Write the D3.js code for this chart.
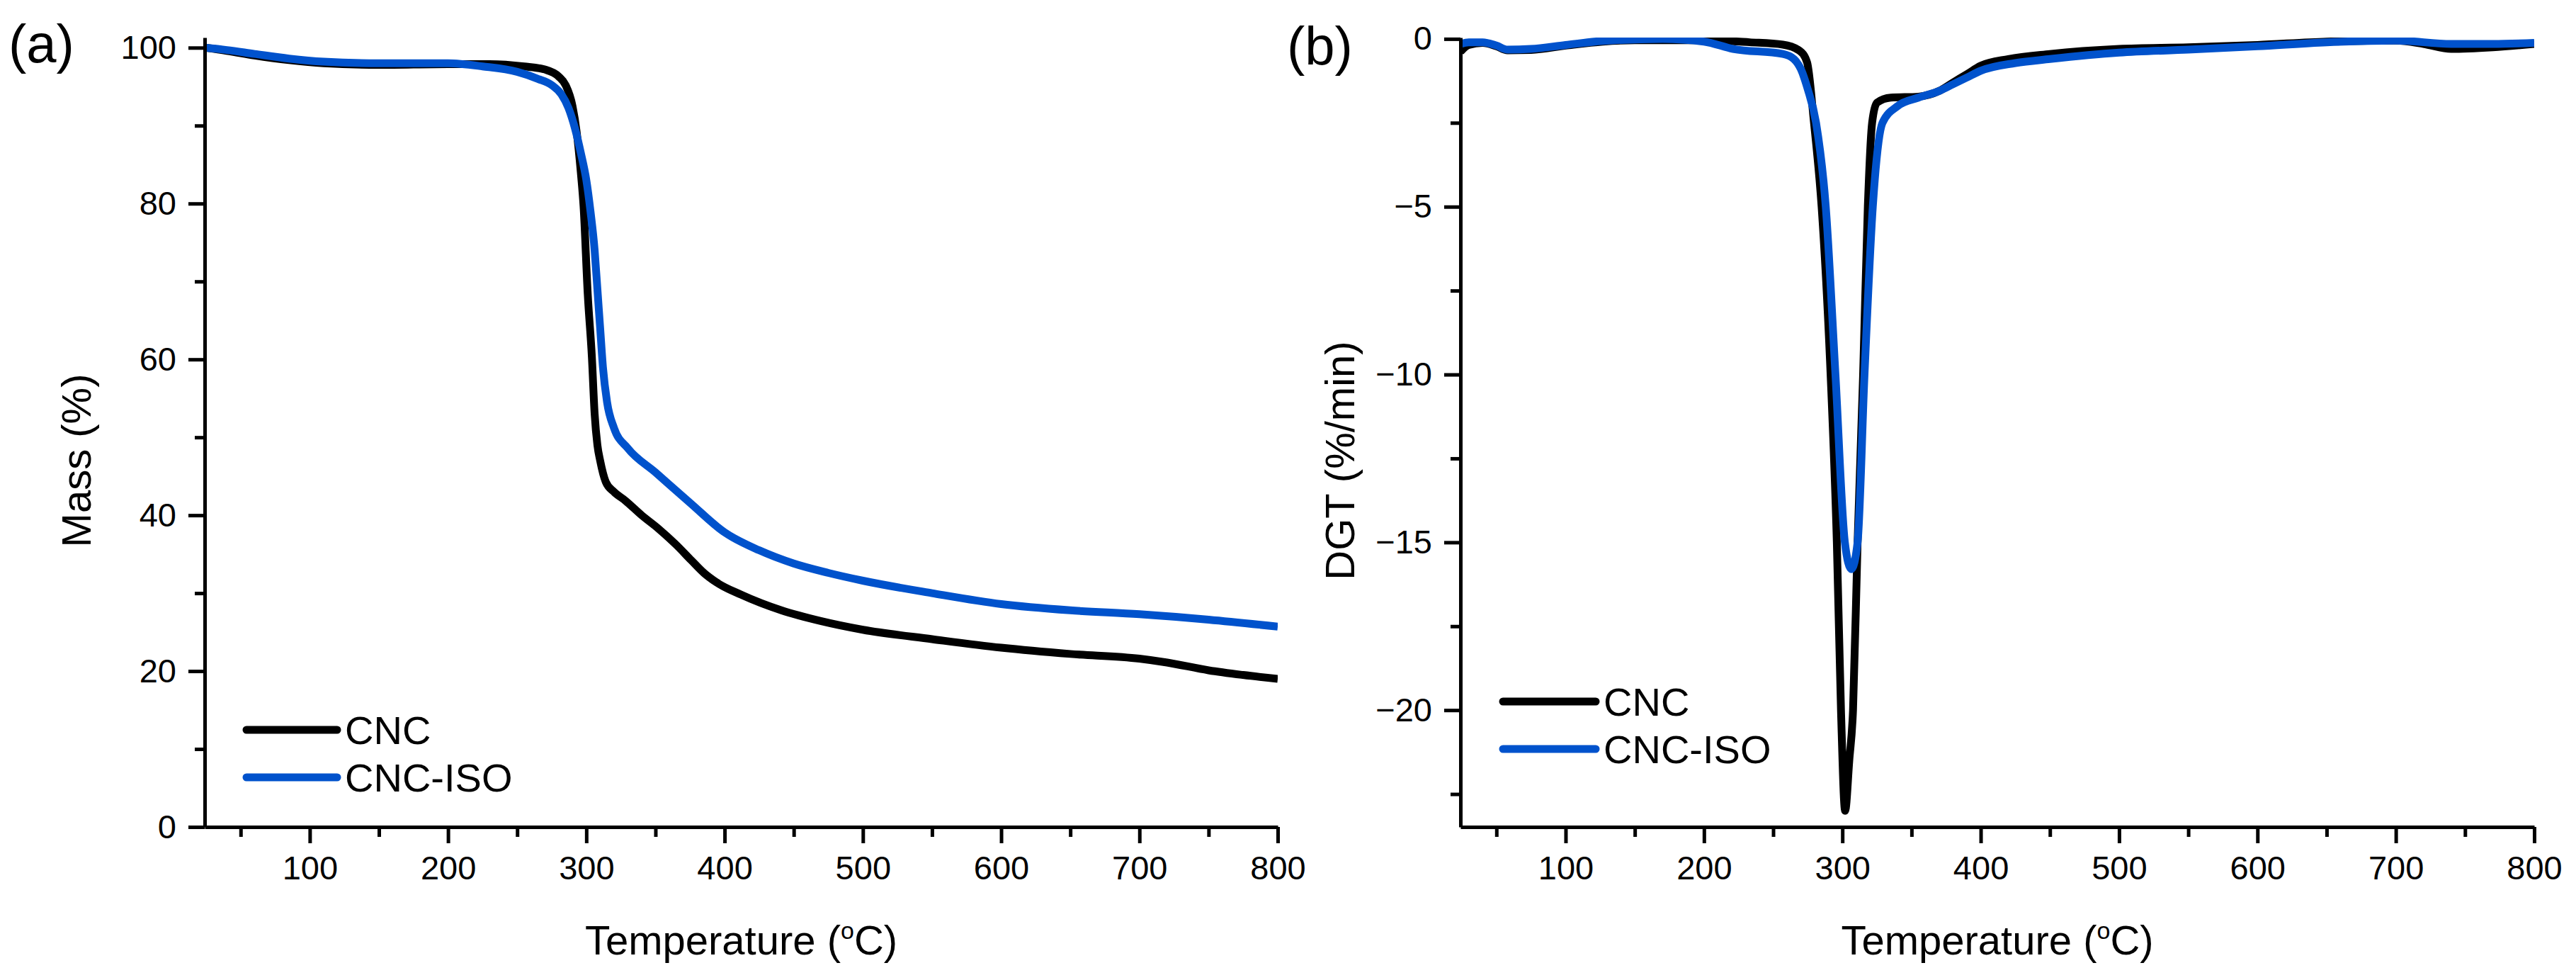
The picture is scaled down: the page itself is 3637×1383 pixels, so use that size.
<!DOCTYPE html>
<html>
<head>
<meta charset="utf-8">
<script src="https://cdn.jsdelivr.net/npm/d3@7"></script>
<style>
  body { margin: 0; background: #fff; }
  text { font-family: "Liberation Sans", Arial, sans-serif; fill: #000; }
</style>
</head>
<body>
<svg id="chart"></svg>
<script>
// series names and colours
const seriesNames = ['CNC', 'CNC-ISO'];
const seriesColors = ['#000000', '#0052cc'];

// (a) TGA: [temperature °C, mass %]
const cncMass = [
  [24, 100], [40, 99.6], [60, 99.0], [85, 98.4], [110, 98.0], [150, 97.8], [200, 97.9],
  [230, 97.9], [255, 97.6], [270, 97.2], [280, 96.3], [285, 95.2], [290, 92.5], [293, 89.2],
  [296, 84], [298, 79.6], [301, 68.4], [304, 60.3], [306, 53], [308, 49], [310, 47],
  [314, 44.3], [320, 43], [328, 41.9], [340, 40], [352, 38.3], [365, 36.2], [376, 34.2],
  [385, 32.6], [394, 31.4], [412, 29.8], [441, 27.8], [470, 26.4], [500, 25.3], [550, 24.1],
  [600, 23], [650, 22.2], [700, 21.6], [720, 21.1], [750, 20.1], [775, 19.5], [800, 19.0]
];
const isoMass = [
  [24, 100], [40, 99.7], [60, 99.2], [85, 98.6], [110, 98.2], [150, 98.0], [200, 98.0],
  [225, 97.6], [250, 96.9], [265, 96.0], [275, 95.2], [282, 94], [287, 92.3], [292, 89.5],
  [296, 86.5], [300, 83], [303, 79], [306, 74], [308, 69], [310, 64], [312, 59], [315, 54.5],
  [320, 51.2], [330, 48.6], [350, 45.5], [375, 41.6], [400, 37.8], [425, 35.5], [450, 33.8],
  [475, 32.6], [500, 31.6], [550, 30], [600, 28.6], [650, 27.8], [700, 27.3], [750, 26.6],
  [800, 25.7]
];

// (b) DTG: [temperature °C, %/min]
const cncDtg = [
  [24, -0.38], [30, -0.18], [40, -0.12], [50, -0.22], [58, -0.34], [75, -0.33], [100, -0.2],
  [127, -0.08], [150, -0.04], [200, -0.04], [233, -0.1], [257, -0.17], [269, -0.35],
  [274.5, -0.7], [279.5, -2.5], [285, -5], [291.5, -10], [296, -15], [299, -20], [302, -23],
  [305, -21.5], [307.7, -20], [311, -15], [315, -10], [318.4, -5], [321.5, -2.5], [325, -1.9],
  [335, -1.75], [355, -1.72], [370, -1.55], [380, -1.3], [390, -1.05], [400, -0.8],
  [420, -0.6], [450, -0.45], [500, -0.3], [550, -0.25], [600, -0.18], [650, -0.08],
  [700, -0.05], [720, -0.15], [740, -0.3], [770, -0.25], [800, -0.15]
];
const isoDtg = [
  [24, -0.15], [30, -0.1], [40, -0.1], [50, -0.2], [58, -0.32], [75, -0.3], [100, -0.18],
  [127, -0.06], [170, 0], [200, -0.08], [221, -0.3], [257, -0.45], [265, -0.6], [270, -0.9],
  [275, -1.5], [281, -2.5], [288, -5], [295, -10], [301.8, -15], [306.5, -15.8], [311, -15],
  [316, -10], [322, -5], [329, -2.5], [340, -2.0], [355, -1.75], [370, -1.55], [380, -1.35],
  [390, -1.15], [400, -0.95], [425, -0.72], [450, -0.6], [500, -0.41], [550, -0.32],
  [600, -0.22], [650, -0.1], [700, -0.05], [740, -0.15], [770, -0.15], [800, -0.12]
];

// tick values
const tempTicks = [100, 200, 300, 400, 500, 600, 700, 800];
const tempMinor = [50, 150, 250, 350, 450, 550, 650, 750];
const massTicks = [0, 20, 40, 60, 80, 100];
const massMinor = [10, 30, 50, 70, 90];
const dtgTicks = [0, -5, -10, -15, -20];
const dtgMinor = [-2.5, -7.5, -12.5, -17.5, -22.5];

const width = 3637;
const height = 1383;

const svg = d3.select('#chart')
    .attr('width', width)
    .attr('height', height);

const panels = [
  {
    label: '(a)', labelX: 12, labelY: 88,
    xRange: [289, 1804], yDomain: [0, 101.3], yRange: [1167, 53],
    yTicks: massTicks, yMinor: massMinor, yTitle: 'Mass (%)', yTitleX: 128,
    series: [cncMass, isoMass],
    legend: { x1: 348, x2: 476, y: 1030, step: 67 }
  },
  {
    label: '(b)', labelX: 1817, labelY: 91,
    xRange: [2062, 3578], yDomain: [-23.48, 0.04], yRange: [1167, 53],
    yTicks: dtgTicks, yMinor: dtgMinor, yTitle: 'DGT (%/min)', yTitleX: 1912,
    series: [cncDtg, isoDtg],
    legend: { x1: 2122, x2: 2253, y: 990, step: 67 }
  }
];

panels.forEach((p, i) => {
  const x = d3.scaleLinear().domain([24, 800]).range(p.xRange);
  const y = d3.scaleLinear().domain(p.yDomain).range(p.yRange);
  const bottom = p.yRange[0];
  const left = p.xRange[0];

  const g = svg.append('g');

  // clip so lines stay inside the frame
  g.append('clipPath').attr('id', 'clip' + i)
    .append('rect')
    .attr('x', p.xRange[0]).attr('y', p.yRange[1])
    .attr('width', p.xRange[1] - p.xRange[0])
    .attr('height', p.yRange[0] - p.yRange[1]);

  const line = d3.line()
    .x(d => x(d[0]))
    .y(d => y(d[1]))
    .curve(d3.curveMonotoneX);

  g.append('g').attr('clip-path', `url(#clip${i})`)
    .selectAll('path')
    .data(p.series)
    .enter().append('path')
    .attr('d', line)
    .attr('fill', 'none')
    .attr('stroke', (d, k) => seriesColors[k])
    .attr('stroke-width', 11)
    .attr('stroke-linejoin', 'round');

  // axes: minor ticks first, then major with labels
  const xAxisG = g.append('g').attr('transform', `translate(0,${bottom})`);
  xAxisG.append('g')
    .call(d3.axisBottom(x).tickValues(tempMinor).tickSize(14).tickFormat(''))
    .call(s => s.select('.domain').remove());
  xAxisG.append('g')
    .call(d3.axisBottom(x).tickValues(tempTicks).tickSize(23).tickSizeOuter(0).tickPadding(18));

  const yAxisG = g.append('g').attr('transform', `translate(${left},0)`);
  yAxisG.append('g')
    .call(d3.axisLeft(y).tickValues(p.yMinor).tickSize(14).tickFormat(''))
    .call(s => s.select('.domain').remove());
  yAxisG.append('g')
    .call(d3.axisLeft(y).tickValues(p.yTicks).tickSize(23).tickSizeOuter(0).tickPadding(17));

  g.selectAll('.domain, .tick line')
    .attr('stroke', '#000')
    .attr('stroke-width', 5);
  g.selectAll('.tick text')
    .attr('font-size', 47)
    .attr('font-family', '"Liberation Sans", Arial, sans-serif');

  // axis titles
  const xt = g.append('text')
    .attr('x', (p.xRange[0] + p.xRange[1]) / 2)
    .attr('y', 1347)
    .attr('text-anchor', 'middle')
    .attr('font-size', 58);
  xt.append('tspan').text('Temperature (');
  xt.append('tspan').attr('font-size', 34).attr('dy', -22).text('o');
  xt.append('tspan').attr('dy', 22).text('C)');

  g.append('text')
    .attr('transform', `translate(${p.yTitleX},650) rotate(-90)`)
    .attr('text-anchor', 'middle')
    .attr('font-size', 58)
    .text(p.yTitle);

  // panel letter
  g.append('text')
    .attr('x', p.labelX)
    .attr('y', p.labelY)
    .attr('font-size', 76)
    .text(p.label);

  // legend
  const lg = g.selectAll('.legend')
    .data(seriesNames)
    .enter().append('g')
    .attr('class', 'legend')
    .attr('transform', (d, k) => `translate(0,${p.legend.y + k * p.legend.step})`);
  lg.append('line')
    .attr('x1', p.legend.x1).attr('x2', p.legend.x2)
    .attr('y1', 0).attr('y2', 0)
    .attr('stroke', (d, k) => seriesColors[k])
    .attr('stroke-width', 11)
    .attr('stroke-linecap', 'round');
  lg.append('text')
    .attr('x', p.legend.x2 + 11)
    .attr('y', 20)
    .attr('font-size', 56)
    .text(d => d);
});
</script>
</body>
</html>
